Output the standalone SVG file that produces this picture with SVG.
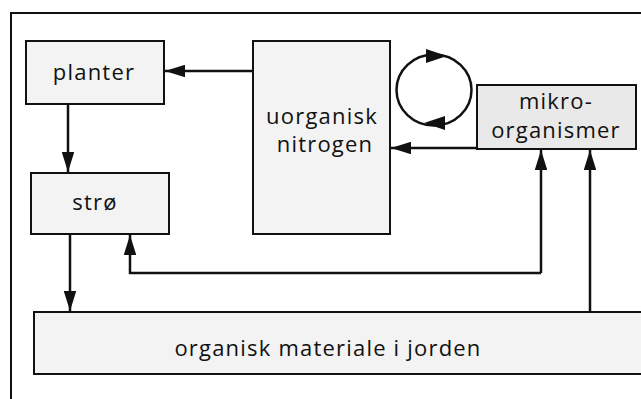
<svg xmlns="http://www.w3.org/2000/svg" width="641" height="399" viewBox="0 0 641 399">
<defs>
<style>
.box{fill:#f3f3f3;stroke:#111;stroke-width:2}
.dark{fill:#e9e9e9}
.ln{fill:none;stroke:#111;stroke-width:2.5}
text{font-family:"Open Sans","Liberation Sans",sans-serif;font-size:22px;letter-spacing:1.2px;fill:#111;text-anchor:middle}
</style>
<marker id="ah" viewBox="0 0 16 10" refX="16" refY="5" markerWidth="8" markerHeight="5" markerUnits="strokeWidth" orient="auto">
<path d="M0,0 L16,5 L0,10 Z" fill="#111"/>
</marker>
</defs>
<rect width="641" height="399" fill="#fff"/>
<path d="M11,399 V13 H641" fill="none" stroke="#111" stroke-width="2"/>
<g id="planter"><rect class="box" x="26" y="41" width="138" height="63"/><text x="94" y="80">planter</text></g>
<g id="stro"><rect class="box" x="31" y="173" width="138" height="61"/><text x="95" y="210">strø</text></g>
<g id="nitrogen"><rect class="box" x="253" y="41" width="137" height="193"/><text x="322" y="124">uorganisk</text><text x="325" y="152">nitrogen</text></g>
<g id="mikro"><rect class="box dark" x="477" y="85" width="159" height="64"/><text x="556" y="109">mikro-</text><text x="556" y="138">organismer</text></g>
<g id="organisk"><rect class="box" x="34" y="312" width="620" height="62"/><text x="328" y="356">organisk materiale i jorden</text></g>
<g id="connectors">
<path class="ln" d="M253,71 H165" marker-end="url(#ah)"/>
<path class="ln" d="M68,104 V172" marker-end="url(#ah)"/>
<path class="ln" d="M70,234 V311" marker-end="url(#ah)"/>
<path class="ln" d="M477,148 H391" marker-end="url(#ah)"/>
<path class="ln" d="M541,273 H130 V235" marker-end="url(#ah)"/>
<path class="ln" d="M541,273 V150" marker-end="url(#ah)"/>
<path class="ln" d="M590,312 V150" marker-end="url(#ah)"/>
<ellipse cx="434" cy="90" rx="37.5" ry="35.5" fill="none" stroke="#111" stroke-width="2.5"/>
<path d="M426,49 L447,56 L426,63 Z" fill="#111"/>
<path d="M445,116 L424,123 L445,130 Z" fill="#111"/>
</g>
</svg>
